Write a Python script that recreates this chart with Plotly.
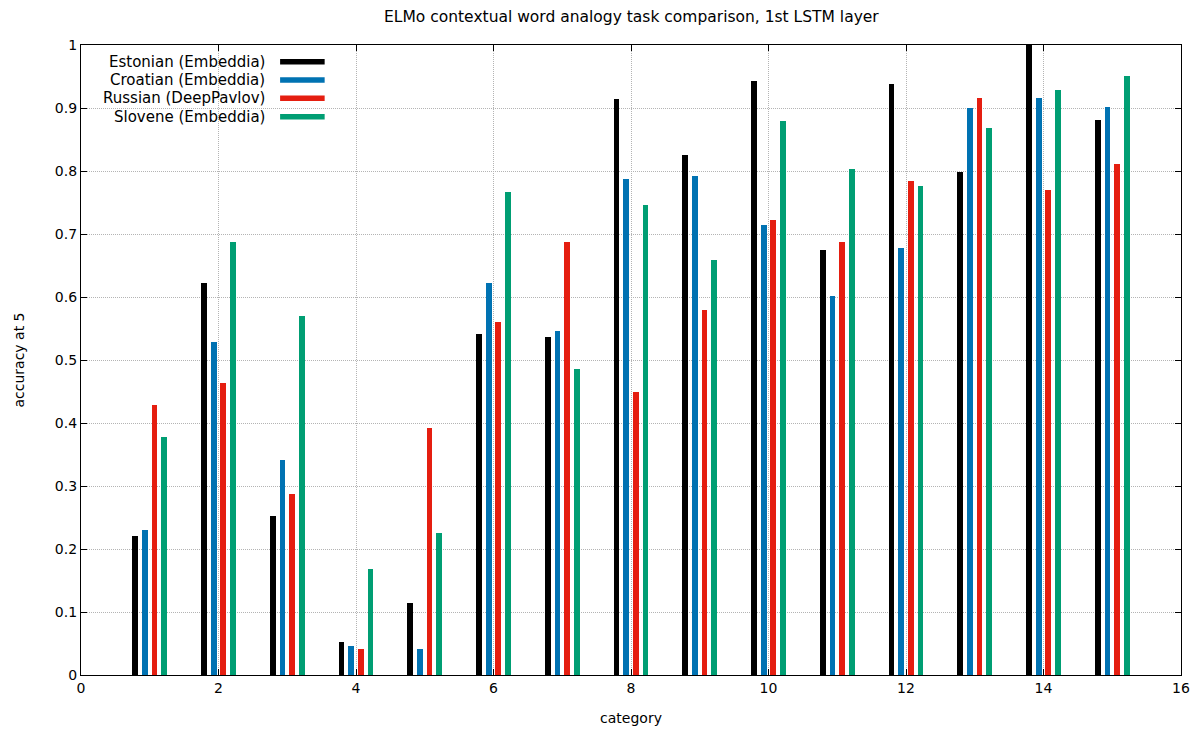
import plotly.graph_objects as go

categories = list(range(1, 16))
series_names = ["Estonian (Embeddia)", "Croatian (Embeddia)", "Russian (DeepPavlov)", "Slovene (Embeddia)"]
estonian = [0.221, 0.622, 0.252, 0.052, 0.114, 0.542, 0.536, 0.914, 0.825, 0.943, 0.675, 0.938, 0.798, 1.0, 0.881]
croatian = [0.230, 0.529, 0.341, 0.046, 0.042, 0.622, 0.546, 0.788, 0.792, 0.714, 0.601, 0.677, 0.900, 0.916, 0.902]
russian = [0.429, 0.463, 0.287, 0.042, 0.392, 0.560, 0.688, 0.450, 0.579, 0.723, 0.688, 0.784, 0.916, 0.770, 0.811]
slovene = [0.378, 0.687, 0.570, 0.168, 0.225, 0.766, 0.486, 0.746, 0.659, 0.880, 0.803, 0.776, 0.868, 0.928, 0.951]
x_ticks = [0, 2, 4, 6, 8, 10, 12, 14, 16]
y_ticks = [0, 0.1, 0.2, 0.3, 0.4, 0.5, 0.6, 0.7, 0.8, 0.9, 1]

colors = ["#000000", "#0072b2", "#e51e10", "#009e73"]
offsets = [-0.21, -0.07, 0.07, 0.21]
series = [estonian, croatian, russian, slovene]

FONT = "DejaVu Sans"
fig = go.Figure()
for name, vals, col, off in zip(series_names, series, colors, offsets):
    fig.add_trace(go.Bar(
        x=[c + off for c in categories], y=vals, width=0.085,
        marker=dict(color=col, line=dict(width=0)), name=name, showlegend=False,
    ))

# custom legend (text right-aligned, sample line to the right)
leg_y = [0.9735, 0.9445, 0.9154, 0.8863]
annotations = []
shapes = []
for name, col, yy in zip(series_names, colors, leg_y):
    annotations.append(dict(x=0.1695, y=yy, xref="paper", yref="paper", text=name,
                            showarrow=False, xanchor="right", yanchor="middle",
                            font=dict(family=FONT, size=15, color="black")))
    shapes.append(dict(type="line", xref="paper", yref="paper", x0=0.181, x1=0.2215,
                       y0=yy, y1=yy, line=dict(color=col, width=5.5)))

annotations.append(dict(x=0.5, y=1.0, xref="paper", yref="paper", yshift=28,
                        text="ELMo contextual word analogy task comparison, 1st LSTM layer",
                        showarrow=False, xanchor="center", yanchor="middle",
                        font=dict(family=FONT, size=15.5, color="black")))

axis_common = dict(showline=True, linecolor="black", linewidth=1.3, mirror="ticks",
                   ticks="inside", ticklen=6, tickcolor="black",
                   tickfont=dict(family=FONT, size=14, color="black"),
                   showgrid=True, gridcolor="#b4b4b4", griddash="1px,1px", gridwidth=1,
                   zeroline=False, automargin=False)

fig.update_layout(
    width=1200, height=729,
    margin=dict(l=81, r=19, t=45, b=54),
    paper_bgcolor="white", plot_bgcolor="white",
    barmode="overlay", bargap=0,
    font=dict(family=FONT, size=14, color="black"),
    annotations=annotations, shapes=shapes,
    xaxis=dict(range=[0, 16], tickvals=x_ticks, ticktext=[str(v) for v in x_ticks],
               title=dict(text="category", standoff=18, font=dict(family=FONT, size=14)),
               **axis_common),
    yaxis=dict(range=[0, 1], tickvals=y_ticks, ticktext=[f"{v:g}" for v in y_ticks],
               title=dict(text="accuracy at 5", standoff=26, font=dict(family=FONT, size=14)),
               **axis_common),
)
fig.write_html("out.html")
